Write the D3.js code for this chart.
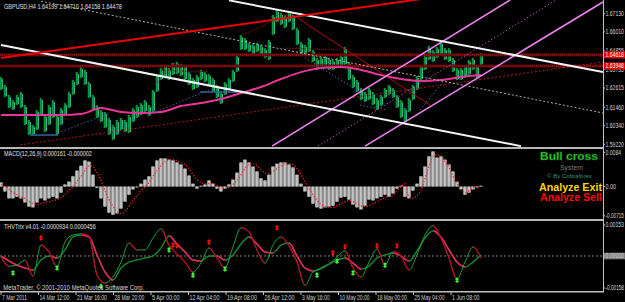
<!DOCTYPE html>
<html><head><meta charset="utf-8">
<script src="https://cdn.jsdelivr.net/npm/d3@7"></script>
<style>html,body{margin:0;padding:0;background:#000;overflow:hidden}svg{display:block}</style>
</head><body><svg id="c" width="625" height="302"></svg>
<script>
// ---------------- DATA ----------------
const symbolTitle = "GBPUSD,H4  1.64199 1.64710 1.64158 1.64478";
const timeLabels = ["7 Mar 2011","14 Mar 12:00","21 Mar 16:00","28 Mar 20:00","5 Apr 00:00","12 Apr 04:00","19 Apr 08:00","26 Apr 12:00","3 May 16:00","10 May 20:00","18 May 00:00","25 May 04:00","1 Jun 08:00"];
const barsPerLabel = 9.375;
const priceTicks = [1.67130,1.66010,1.64855,1.63735,1.62615,1.61460,1.60340,1.59220];
const levelLines = [1.64618,1.63948];
const macdTicks = ["0.0084","0.00","-0.00715"];
const macdTickVals = [0.0084,0,-0.00715];
const thvTicks = ["0.00153","0.00000","-0.00158"];
const thvTickVals = [0.00153,0,-0.00158];

const highs = [1.6328,1.6280,1.6220,1.6189,1.6220,1.6238,1.6159,1.6069,1.6038,1.6129,
1.6201,1.6099,1.6159,1.6189,1.6099,1.6141,1.6171,1.6238,1.6310,1.6358,
1.6389,1.6371,1.6298,1.6220,1.6159,1.6129,1.6117,1.6081,1.6038,1.6069,
1.6081,1.6069,1.6099,1.6141,1.6159,1.6171,1.6189,1.6159,1.6250,1.6340,
1.6383,1.6401,1.6383,1.6413,1.6419,1.6407,1.6401,1.6358,1.6322,1.6340,
1.6371,1.6358,1.6346,1.6322,1.6280,1.6238,1.6298,1.6322,1.6371,1.6461,
1.6582,1.6564,1.6534,1.6528,1.6534,1.6522,1.6503,1.6552,1.6703,1.6733,
1.6715,1.6703,1.6721,1.6703,1.6624,1.6540,1.6522,1.6564,1.6491,1.6443,
1.6449,1.6461,1.6443,1.6431,1.6443,1.6461,1.6509,1.6419,1.6340,1.6310,
1.6262,1.6238,1.6262,1.6238,1.6201,1.6220,1.6262,1.6280,1.6262,1.6220,
1.6189,1.6141,1.6201,1.6280,1.6334,1.6401,1.6461,1.6516,1.6491,1.6509,
1.6540,1.6503,1.6503,1.6443,1.6383,1.6383,1.6401,1.6431,1.6443,1.6401,
1.6473];
const lows = [1.6250,1.6207,1.6141,1.6129,1.6159,1.6141,1.6038,1.5978,1.5978,1.6008,
1.6099,1.5996,1.6038,1.6081,1.5978,1.6038,1.6099,1.6141,1.6220,1.6280,
1.6322,1.6280,1.6201,1.6129,1.6081,1.6056,1.6020,1.5978,1.5948,1.5978,
1.6008,1.5996,1.5990,1.6056,1.6081,1.6099,1.6117,1.6093,1.6117,1.6238,
1.6310,1.6322,1.6310,1.6340,1.6346,1.6334,1.6310,1.6280,1.6250,1.6262,
1.6310,1.6298,1.6274,1.6238,1.6201,1.6165,1.6220,1.6250,1.6298,1.6358,
1.6491,1.6491,1.6479,1.6461,1.6479,1.6461,1.6443,1.6431,1.6582,1.6660,
1.6642,1.6624,1.6660,1.6612,1.6522,1.6461,1.6455,1.6479,1.6419,1.6371,
1.6383,1.6395,1.6371,1.6371,1.6383,1.6383,1.6401,1.6310,1.6262,1.6238,
1.6189,1.6177,1.6189,1.6159,1.6129,1.6153,1.6201,1.6220,1.6201,1.6141,
1.6081,1.6056,1.6117,1.6189,1.6250,1.6310,1.6371,1.6431,1.6419,1.6443,
1.6461,1.6431,1.6419,1.6358,1.6310,1.6310,1.6322,1.6340,1.6371,1.6322,
1.6401];
// moving average, one value every 5 bars
const maStep = 5;
const maValues = [1.6099,1.6099,1.6099,1.6099,1.6105,1.6141,1.6117,1.6111,1.6117,1.6153,
1.6171,1.6195,1.6232,1.6268,1.6316,1.6358,1.6383,1.6389,1.6371,1.6340,
1.6316,1.6304,1.6310,1.6328,1.6340];

// trend objects: [bar1, price1, bar2, price2]
const redTrend = [[0,1.6443,105,1.6799]];
const whiteChannel = [[0,1.6521,130,1.5911],[57,1.6791,150.5,1.6358]];
const whiteMid = [[10,1.6786,150.5,1.6111]];
const pinkChannel = [[67.75,1.5911,127.25,1.6793],[91,1.5911,150.5,1.6781]];
const pinkMid = [[79.25,1.5911,138.75,1.6793]];
const redSupport = [[4.75,1.5918,150.5,1.6419]];
const redFall = [[72.25,1.6715,107.25,1.6159]];
const darkRedZig = [[60.5,1.6582,72.25,1.6715],[38.5,1.6280,43.5,1.6413],[40,1.6368,52,1.6360],[70.5,1.6503,85.5,1.6491]];
const blueFlat = [[7.25,1.5978,14.25,1.5978],[49.75,1.6238,59.25,1.6238]];
const blueDots = [[14.25,1.5990,27.25,1.6111],[38,1.6111,52,1.6250],[76,1.6443,89,1.6250],[89.75,1.6159,96.5,1.6129],[104.75,1.6129,110.5,1.6298]];

const macdHist = [0.0010,-0.0012,-0.0029,-0.0029,-0.0025,-0.0029,-0.0039,-0.0049,-0.0051,-0.0039,
-0.0029,-0.0034,-0.0029,-0.0025,-0.0029,-0.0015,0.0005,0.0012,0.0025,0.0039,
0.0051,0.0064,0.0061,0.0029,-0.0003,-0.0029,-0.0049,-0.0064,-0.0069,-0.0066,
-0.0054,-0.0037,-0.0020,-0.0007,-0.0002,0.0007,0.0017,0.0025,0.0049,0.0064,
0.0069,0.0069,0.0066,0.0064,0.0059,0.0054,0.0044,0.0027,0.0007,-0.0005,
0.0002,0.0005,0.0015,0.0007,-0.0005,-0.0012,-0.0005,0.0005,0.0017,0.0034,
0.0059,0.0066,0.0059,0.0049,0.0037,0.0020,0.0015,0.0029,0.0049,0.0056,
0.0059,0.0059,0.0054,0.0047,0.0029,0.0007,-0.0012,-0.0025,-0.0042,-0.0051,
-0.0054,-0.0051,-0.0049,-0.0047,-0.0037,-0.0027,-0.0025,-0.0032,-0.0044,-0.0051,
-0.0056,-0.0047,-0.0032,-0.0034,-0.0029,-0.0025,-0.0020,-0.0025,-0.0017,-0.0005,
0.0002,-0.0025,-0.0029,-0.0010,0.0007,0.0025,0.0049,0.0074,0.0086,0.0071,
0.0074,0.0066,0.0054,0.0037,0.0012,-0.0007,-0.0020,-0.0015,-0.0007,-0.0002,
0.0002];
const macdSignal = [0.0005,0,-0.0007,-0.0015,-0.0020,-0.0025,-0.0029,-0.0037,-0.0042,-0.0044,
-0.0042,-0.0039,-0.0037,-0.0034,-0.0032,-0.0027,-0.0020,-0.0010,0,0.0012,
0.0025,0.0039,0.0051,0.0049,0.0034,0.0015,-0.0010,-0.0032,-0.0049,-0.0061,
-0.0066,-0.0061,-0.0049,-0.0034,-0.0022,-0.0010,0,0.0010,0.0025,0.0039,
0.0051,0.0061,0.0066,0.0066,0.0064,0.0059,0.0054,0.0044,0.0029,0.0017,
0.0010,0.0007,0.0007,0.0007,0.0002,-0.0002,-0.0005,-0.0002,0.0005,0.0015,
0.0029,0.0044,0.0054,0.0056,0.0051,0.0042,0.0034,0.0032,0.0037,0.0044,
0.0051,0.0056,0.0056,0.0054,0.0044,0.0029,0.0012,-0.0005,-0.0020,-0.0034,
-0.0044,-0.0049,-0.0051,-0.0051,-0.0047,-0.0042,-0.0037,-0.0034,-0.0037,-0.0042,
-0.0047,-0.0049,-0.0047,-0.0042,-0.0037,-0.0032,-0.0027,-0.0025,-0.0022,-0.0010,
0,0.0007,-0.0025,-0.0029,-0.0022,-0.0010,0.0020,0.0049,0.0074,0.0078,
0.0076,0.0061,0.0047,0.0025,0.0007,-0.0007,-0.0015,-0.0010,-0.0002,0,
0];

// THV Trix, one value every 2 bars
const thvStep = 2;
const thvFast = [-0.00005,-0.00050,-0.00045,-0.00020,-0.00099,0.00054,0.00020,-0.00054,0.00069,0.00104,
0.00109,0.00099,-0.00094,-0.00134,-0.00104,-0.00030,0.00064,0.00030,0.00030,0.00089,
0.00134,0.00054,0.00010,-0.00030,-0.00079,-0.00035,0.00040,-0.00010,-0.00059,0.00045,
0.00139,0.00119,0.00030,-0.00035,0.00054,0.00094,0.00050,-0.00030,-0.00144,-0.00079,
-0.00064,-0.00040,-0.00005,0.00025,-0.00059,-0.00104,-0.00030,0.00035,-0.00045,0.00020,
0.00000,-0.00069,0.00005,0.00104,0.00149,0.00089,-0.00010,-0.00114,-0.00030,0.00045,
-0.00009];
const thvSlow = [0.00000,-0.00025,-0.00045,-0.00059,-0.00069,-0.00020,0.00000,-0.00010,0.00030,0.00094,
0.00104,0.00094,0.00005,-0.00079,-0.00119,-0.00059,-0.00030,-0.00020,-0.00010,0.00000,
0.00040,0.00099,0.00059,0.00020,-0.00020,-0.00025,0.00000,0.00000,-0.00020,0.00005,
0.00059,0.00094,0.00059,0.00020,0.00015,0.00054,0.00064,0.00000,-0.00059,-0.00074,
-0.00059,-0.00040,-0.00020,-0.00010,-0.00035,-0.00064,-0.00050,-0.00010,0.00005,0.00015,
0.00000,-0.00025,0.00025,0.00089,0.00124,0.00094,0.00030,-0.00030,-0.00054,-0.00030,
0.00005];
const buyArrowBars = [3,14,25,42,48,56,79,84,88,96,114];
const buyArrowVals = [-0.00084,-0.00059,-0.00150,0.00030,-0.00094,-0.00064,-0.00094,-0.00025,-0.00084,-0.00045,-0.00119];
const sellArrowBars = [10,43,44,52,69,83,86,94,99];
const sellArrowVals = [0.00089,0.00054,0.00050,0.00069,0.00139,0.00015,0.00045,0.00050,0.00050];

const macdTitle = "MACD(12,26,9) 0.000161 -0.000002";
const thvTitle = "THVTrix v4.01 -0.0000934 0.0000456";
const copyright = "MetaTrader, \u00a9 2001-2010 MetaQuotes Software Corp.";

// ---------------- DRAW ----------------
const svg = d3.select("#c");
const R = 603;
const FONT = "'Liberation Sans', Arial, sans-serif";
const xb = d3.scaleLinear().domain([0,120]).range([1,481]);
const yP = d3.scaleLinear().domain([1.5922,1.6713]).range([144.3,13.3]);
const yM = d3.scaleLinear().domain([-0.00715,0.0084]).range([215.7,152.3]);
const yT = d3.scaleLinear().domain([-0.00158,0.00153]).range([288,225]);

svg.append("rect").attr("width",625).attr("height",302).attr("fill","#000");
const defs = svg.append("defs");
function clip(id,x,y,w,h){defs.append("clipPath").attr("id",id).append("rect").attr("x",x).attr("y",y).attr("width",w).attr("height",h);}
clip("cm",0,0,R,147); clip("cd",0,149,R,69); clip("ct",0,221,R,70);

// text squeezed horizontally to a target width (the reference is a downscaled screenshot)
function txt(g,x,y,s,size,fill,len,weight){
  const t=g.append("text").attr("x",0).attr("y",0).text(s)
    .attr("font-family",FONT).attr("font-size",size).attr("fill",fill);
  if(weight) t.attr("font-weight",weight);
  let k=1;
  if(len){ const w=t.node().getComputedTextLength(); if(w>0) k=len/w; }
  t.attr("transform",`translate(${x},${y}) scale(${k},1)`);
  return t;
}

// ---- main panel ----
const gm = svg.append("g").attr("clip-path","url(#cm)");
const bars = d3.range(highs.length);
gm.selectAll("rect.bar").data(bars).join("rect").attr("class","bar")
  .attr("x",i=>xb(i)-1.3).attr("width",2.2)
  .attr("y",i=>yP(highs[i])).attr("height",i=>Math.max(1,yP(lows[i])-yP(highs[i])))
  .attr("fill","#00963a");
gm.selectAll("line.barc").data(bars).join("line").attr("class","barc")
  .attr("x1",i=>xb(i)+1.4).attr("x2",i=>xb(i)+1.4)
  .attr("y1",i=>yP(highs[i])+2).attr("y2",i=>yP(lows[i])-1)
  .attr("stroke","#3cc2aa").attr("stroke-width",1);

levelLines.forEach(v=>{
  gm.append("rect").attr("x",0).attr("width",R).attr("y",yP(v)-1.5).attr("height",3).attr("fill","#5a0808");
  gm.append("line").attr("x1",0).attr("x2",R).attr("y1",yP(v)).attr("y2",yP(v))
    .attr("stroke","#b81818").attr("stroke-width",1).attr("stroke-dasharray","1,1");
});

gm.append("path").datum(maValues).attr("fill","none").attr("stroke","#e8359a").attr("stroke-width",2)
  .attr("d",d3.line().x((d,i)=>xb(i*maStep)).y(d=>yP(d)).curve(d3.curveMonotoneX));

function segs(arr,color,width,dash){
  gm.selectAll(null).data(arr).join("line")
    .attr("x1",d=>xb(d[0])).attr("y1",d=>yP(d[1])).attr("x2",d=>xb(d[2])).attr("y2",d=>yP(d[3]))
    .attr("stroke",color).attr("stroke-width",width).attr("stroke-dasharray",dash||null);
}
segs(blueFlat,"#3a5fa0",1.5);
segs(blueDots,"#3a6aa8",1,"1.5,2");
segs(darkRedZig,"#9a1010",1,"1.5,1.5");
segs(redSupport,"#b01818",1,"2,2");
segs(redFall,"#b01010",1);
segs(whiteMid,"#b0b0b0",1,"2,2");
segs(pinkMid,"#b050b0",1,"1.5,2");
segs(pinkChannel,"#ee82ee",1.6);
segs(whiteChannel,"#f4f4f4",2);
segs(redTrend,"#ee0000",2);

// ---- MACD panel ----
const gd = svg.append("g").attr("clip-path","url(#cd)");
gd.selectAll("rect.h").data(macdHist).join("rect").attr("class","h")
  .attr("x",(d,i)=>xb(i)-2).attr("width",4)
  .attr("y",d=>Math.min(yM(d),yM(0))).attr("height",d=>Math.abs(yM(d)-yM(0)))
  .attr("fill","#8a8a8a");
gd.selectAll("rect.h2").data(macdHist).join("rect").attr("class","h2")
  .attr("x",(d,i)=>xb(i)-1.2).attr("width",2)
  .attr("y",d=>Math.min(yM(d),yM(0))).attr("height",d=>Math.abs(yM(d)-yM(0)))
  .attr("fill","#c4c4c4");
gd.append("path").datum(macdSignal).attr("fill","none").attr("stroke","#ff2020").attr("stroke-width",1.3)
  .attr("stroke-dasharray","1.2,1.8")
  .attr("d",d3.line().x((d,i)=>xb(i)).y(d=>yM(d)).curve(d3.curveMonotoneX));

// ---- THV panel ----
const gt = svg.append("g").attr("clip-path","url(#ct)");
gt.append("line").attr("x1",0).attr("x2",R).attr("y1",yT(0)).attr("y2",yT(0))
  .attr("stroke","#808080").attr("stroke-width",1).attr("stroke-dasharray","2,2");
function trix(vals,id,up,down,w){
  const line=d3.line().x((d,i)=>xb(i*thvStep)).y(d=>yT(d)).curve(d3.curveMonotoneX);
  const cp=defs.append("clipPath").attr("id",id);
  vals.forEach((v,i)=>{ if(i>0 && v<vals[i-1]) cp.append("rect").attr("x",xb((i-1)*thvStep)).attr("y",219).attr("width",xb(i*thvStep)-xb((i-1)*thvStep)).attr("height",75); });
  gt.append("path").datum(vals).attr("fill","none").attr("stroke",up).attr("stroke-width",w).attr("d",line);
  gt.append("g").attr("clip-path","url(#"+id+")").append("path").datum(vals).attr("fill","none").attr("stroke",down).attr("stroke-width",w+0.2).attr("d",line);
}
trix(thvSlow,"cs","#168a2e","#e8205a",1.4);
trix(thvFast,"cf","#1aa03a","#c80020",1);
const upArrow="M0,-4.5L3.5,-1L1.2,-1L1.2,4L-1.2,4L-1.2,-1L-3.5,-1Z M-3,1.2h6v1.4h-6Z";
gt.selectAll("path.ua").data(buyArrowBars).join("path").attr("class","ua")
  .attr("d",upArrow).attr("fill","#44ff44")
  .attr("transform",(b,i)=>`translate(${xb(b)},${yT(buyArrowVals[i])}) scale(0.65)`);
gt.selectAll("path.da").data(sellArrowBars).join("path").attr("class","da")
  .attr("d",upArrow).attr("fill","#ff1010")
  .attr("transform",(b,i)=>`translate(${xb(b)},${yT(sellArrowVals[i])}) scale(0.65,-0.65)`);

// ---- frames ----
svg.append("rect").attr("x",0).attr("y",147).attr("width",R).attr("height",2).attr("fill","#b8b8b8");
svg.append("rect").attr("x",0).attr("y",219).attr("width",R).attr("height",2).attr("fill","#b8b8b8");
svg.append("rect").attr("x",0).attr("y",291).attr("width",R+1).attr("height",1.5).attr("fill","#c0c0c0");
svg.append("rect").attr("x",R).attr("y",0).attr("width",1).attr("height",292).attr("fill","#c0c0c0");

// price axis
const ax = svg.append("g");
priceTicks.forEach(v=>{
  ax.append("line").attr("x1",R).attr("x2",R+2).attr("y1",yP(v)).attr("y2",yP(v)).attr("stroke","#c0c0c0");
  txt(ax,605.5,yP(v)+2.3,v.toFixed(5),6.5,"#d0d0d0",18.5);
});
levelLines.forEach(v=>{
  ax.append("rect").attr("x",604).attr("y",yP(v)-3.6).attr("width",21).attr("height",7.2).attr("fill","#e00000");
  txt(ax,605.5,yP(v)+2.3,v.toFixed(5),6.5,"#ffffff",18.5);
});
macdTicks.forEach((s,i)=>{
  const y=yM(macdTickVals[i]);
  ax.append("line").attr("x1",R).attr("x2",R+2).attr("y1",y).attr("y2",y).attr("stroke","#c0c0c0");
  txt(ax,605.5,y+2.3,s,6.5,"#d0d0d0",Math.min(18.5,s.length*2.6));
});
thvTicks.forEach((s,i)=>{
  const y=yT(thvTickVals[i]);
  if(thvTickVals[i]===0) ax.append("rect").attr("x",604).attr("y",y-3.3).attr("width",21).attr("height",6.6).attr("fill","#7a7a7a");
  ax.append("line").attr("x1",R).attr("x2",R+2).attr("y1",y).attr("y2",y).attr("stroke","#c0c0c0");
  txt(ax,605.5,y+2.3,s,6.5,"#d8d8d8",18.5);
});
// time axis
timeLabels.forEach((s,i)=>{
  const x=xb(i*barsPerLabel);
  ax.append("line").attr("x1",x).attr("x2",x).attr("y1",292).attr("y2",295).attr("stroke","#c0c0c0");
  txt(ax,x+1,299.5,s,7,"#d0d0d0",s.length*2.5);
});

// titles
txt(svg,4,8.5,symbolTitle,7,"#e0e0e0",118);
txt(svg,4,155.5,macdTitle,7,"#e0e0e0",88);
txt(svg,4,229,thvTitle,7,"#e0e0e0",92);
txt(svg,3.3,289.5,copyright,7,"#d8d8d8",141);

// signal panel text
txt(svg,540,160,"Bull cross",10.5,"#33cc33",58,"bold").attr("stroke","#137013").attr("stroke-width",0.4);
txt(svg,560,169.5,"System",7,"#7a7a7a",23);
txt(svg,547,177.5,"\u00a9 By Cobraforex",5,"#2e9a6a",45);
txt(svg,539,191,"Analyze Exit",10,"#ffd400",63,"bold");
txt(svg,540,201,"Analyze Sell",10,"#ff0000",62,"bold");
</script>
</body></html>
